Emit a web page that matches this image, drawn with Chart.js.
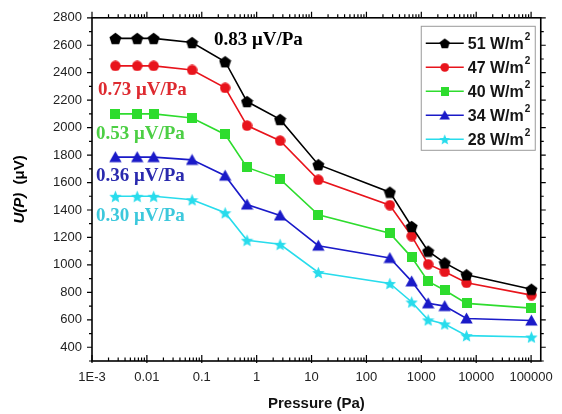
<!DOCTYPE html>
<html>
<head>
<meta charset="utf-8">
<script src="https://cdn.jsdelivr.net/npm/chart.js@4.4.1/dist/chart.umd.min.js"></script>
<style>
html, body { margin: 0; padding: 0; background: #fff; }
#wrap { width: 562px; height: 414px; position: relative; }
</style>
</head>
<body>
<div id="wrap"><canvas id="chart"></canvas></div>
<script>
// pressure steps (Pa) and measured output U(P) in µV for each light intensity
const pressure = [0.00267, 0.00667, 0.0133, 0.0667, 0.267, 0.667, 2.67, 13.3, 267, 667, 1333, 2667, 6667, 101325];
const u51 = [2650, 2650, 2650, 2620, 2480, 2190, 2060, 1730, 1530, 1280, 1100, 1015, 928, 823];
const u47 = [2450, 2450, 2450, 2420, 2290, 2015, 1905, 1620, 1435, 1210, 1005, 950, 870, 780];
const u40 = [2100, 2100, 2100, 2070, 1950, 1710, 1625, 1365, 1230, 1055, 880, 815, 720, 685];
const u34 = [1785, 1785, 1785, 1765, 1650, 1440, 1360, 1140, 1050, 880, 720, 700, 610, 595];
const u28 = [1500, 1500, 1500, 1475, 1380, 1180, 1150, 945, 865, 730, 600, 570, 485, 475];
const intensities = ['51', '47', '40', '34', '28'];
const slopes = ['0.83 μV/Pa', '0.73 μV/Pa', '0.53 μV/Pa', '0.36 μV/Pa', '0.30 μV/Pa'];
const xTickValues = [1e-3, 1e-2, 0.1, 1, 10, 100, 1000, 10000, 100000];
const yTickValues = [400, 600, 800, 1000, 1200, 1400, 1600, 1800, 2000, 2200, 2400, 2600, 2800];

// where the slope labels sit, in data units
const slopeAt = [[0.167, 2634], [0.00128, 2274], [0.00118, 1953], [0.00118, 1646], [0.00118, 1354]];

const lineColors = ['#000000', '#e8141c', '#2edc2e', '#1a1ac8', '#28dcec'];
const textColors = ['#000000', '#de2a30', '#4ccf44', '#2a2aae', '#3cc8dc'];
const shapes = ['pentagon', 'circle', 'square', 'triangle', 'star'];
const sizes = [13, 11, 10, 13, 13];

function markerCanvas(shape, color, size) {
    const c = document.createElement('canvas');
    c.width = size; c.height = size;
    const g = c.getContext('2d');
    const r = size / 2;
    g.fillStyle = color;
    g.beginPath();
    if (shape === 'circle') {
        g.arc(r, r, r - 0.3, 0, Math.PI * 2);
    } else if (shape === 'square') {
        g.rect(0, 0, size, size);
    } else if (shape === 'triangle') {
        g.moveTo(r, 0.5);
        g.lineTo(size - 0.3, size - 1.5);
        g.lineTo(0.3, size - 1.5);
    } else if (shape === 'pentagon') {
        for (let i = 0; i < 5; i++) {
            const a = -Math.PI / 2 + i * 2 * Math.PI / 5;
            g.lineTo(r + Math.cos(a) * (r - 0.2), r + 0.6 + Math.sin(a) * (r - 0.2));
        }
    } else {
        for (let i = 0; i < 10; i++) {
            const a = -Math.PI / 2 + i * Math.PI / 5;
            const rr = i % 2 === 0 ? r : r * 0.45;
            g.lineTo(r + Math.cos(a) * rr, r + 0.8 + Math.sin(a) * rr);
        }
    }
    g.closePath();
    g.fill();
    return c;
}

const markers = shapes.map((s, i) => markerCanvas(s, lineColors[i], sizes[i]));
const allSeries = [u51, u47, u40, u34, u28];

function isDecade(v) {
    const l = Math.log10(v);
    return Math.abs(l - Math.round(l)) < 1e-9;
}

const decor = {
    id: 'decor',
    afterDraw(chart) {
        const ctx = chart.ctx, a = chart.chartArea;
        const xs = chart.scales.x, ys = chart.scales.y;
        ctx.save();

        // frame + tick marks
        ctx.strokeStyle = '#000';
        ctx.lineWidth = 1.6;
        ctx.strokeRect(a.left, a.top, a.right - a.left, a.bottom - a.top);
        ctx.lineWidth = 1.2;
        ctx.beginPath();
        for (let e = -3; e <= 5; e++) {
            for (let k = 1; k <= 9; k++) {
                const v = k * Math.pow(10, e);
                if (v > xs.max) continue;
                const px = xs.getPixelForValue(v);
                const len = k === 1 ? 6 : 3.5;
                ctx.moveTo(px, a.bottom + (k === 1 ? 2 : 0));
                ctx.lineTo(px, a.bottom - len);
                ctx.moveTo(px, a.top);
                ctx.lineTo(px, a.top - len);
            }
        }
        for (let v = ys.min; v <= ys.max; v += 100) {
            const py = ys.getPixelForValue(v);
            const len = v % 200 === 0 ? 5 : 3;
            ctx.moveTo(a.left, py); ctx.lineTo(a.left - len, py);
            ctx.moveTo(a.right, py); ctx.lineTo(a.right + len, py);
        }
        ctx.stroke();

        // slope labels
        ctx.font = 'bold 19px "Liberation Serif"';
        ctx.textBaseline = 'middle';
        ctx.textAlign = 'left';
        slopes.forEach((t, i) => {
            ctx.fillStyle = textColors[i];
            ctx.fillText(t, xs.getPixelForValue(slopeAt[i][0]), ys.getPixelForValue(slopeAt[i][1]));
        });

        // legend box
        const boxR = a.right - 6, boxL = boxR - 114, boxT = a.top + 8, boxH = 124;
        ctx.fillStyle = '#fff';
        ctx.fillRect(boxL, boxT, boxR - boxL, boxH);
        ctx.strokeStyle = '#9a9a9a';
        ctx.lineWidth = 1;
        ctx.strokeRect(boxL + 0.5, boxT + 0.5, boxR - boxL, boxH);
        intensities.forEach((n, i) => {
            const cy = boxT + 17.5 + i * 24;
            ctx.strokeStyle = lineColors[i];
            ctx.lineWidth = 1.6;
            ctx.beginPath();
            ctx.moveTo(boxL + 5, cy); ctx.lineTo(boxL + 43, cy);
            ctx.stroke();
            const m = markers[i];
            const s = m.width * 0.85;
            ctx.drawImage(m, boxL + 24 - s / 2, cy - s / 2, s, s);
            ctx.fillStyle = '#151515';
            ctx.font = 'bold 16px "Liberation Sans"';
            ctx.textBaseline = 'middle';
            const label = n + ' W/m';
            ctx.fillText(label, boxL + 47, cy + 1);
            const w = ctx.measureText(label).width;
            ctx.font = 'bold 10px "Liberation Sans"';
            ctx.fillText('2', boxL + 48 + w, cy - 6);
        });

        // y axis title: U(P) (µV)
        ctx.translate(20, (a.top + a.bottom) / 2);
        ctx.rotate(-Math.PI / 2);
        ctx.fillStyle = '#000';
        ctx.textBaseline = 'middle';
        const f1 = 'italic bold 15px "Liberation Sans"', f2 = 'bold 15px "Liberation Sans"';
        ctx.font = f1;
        const w1 = ctx.measureText('U(P)').width;
        ctx.font = f2;
        const w2 = ctx.measureText('  (μV)').width;
        let x0 = -(w1 + w2) / 2;
        ctx.font = f1;
        ctx.fillText('U(P)', x0, 0);
        ctx.font = f2;
        ctx.fillText('  (μV)', x0 + w1, 0);
        ctx.restore();
    }
};

const ctx = document.getElementById('chart').getContext('2d');

new Chart(ctx, {
    type: 'line',
    data: {
        datasets: allSeries.map((ys, i) => ({
            label: intensities[i] + ' W/m²',
            data: pressure.map((p, j) => ({ x: p, y: ys[j] })),
            borderColor: lineColors[i],
            backgroundColor: lineColors[i],
            borderWidth: 1.6,
            pointStyle: markers[i],
            pointRadius: 6,
            tension: 0,
            fill: false
        }))
    },
    options: {
        responsive: true,
        maintainAspectRatio: false,
        animation: false,
        layout: { padding: { top: 17, right: 10, left: 0, bottom: 0 } },
        plugins: {
            legend: { display: false },
            tooltip: { enabled: false }
        },
        scales: {
            x: {
                type: 'logarithmic',
                min: 0.001,
                max: 150000,
                grid: { display: false, drawTicks: false },
                border: { display: false },
                afterBuildTicks: s => { s.ticks = xTickValues.map(v => ({ value: v })); },
                afterFit: s => { s.height = 53; },
                ticks: {
                    autoSkip: false,
                    maxRotation: 0,
                    padding: 9,
                    color: '#222',
                    font: { family: 'Liberation Sans', size: 13 },
                    callback: v => isDecade(v) ? (v < 0.005 ? '1E-3' : String(+v.toPrecision(6))) : ''
                },
                title: {
                    display: true,
                    text: 'Pressure (Pa)',
                    color: '#111',
                    font: { family: 'Liberation Sans', size: 15, weight: 'bold' },
                    padding: { top: 0, bottom: 1 }
                }
            },
            y: {
                min: 300,
                max: 2800,
                grid: { display: false, drawTicks: false },
                border: { display: false },
                afterBuildTicks: s => { s.ticks = yTickValues.map(v => ({ value: v })); },
                afterFit: s => { s.width = 92; },
                ticks: {
                    padding: 10,
                    color: '#222',
                    font: { family: 'Liberation Sans', size: 13 },
                    callback: v => String(v)
                }
            }
        }
    },
    plugins: [decor]
});
</script>
</body>
</html>
